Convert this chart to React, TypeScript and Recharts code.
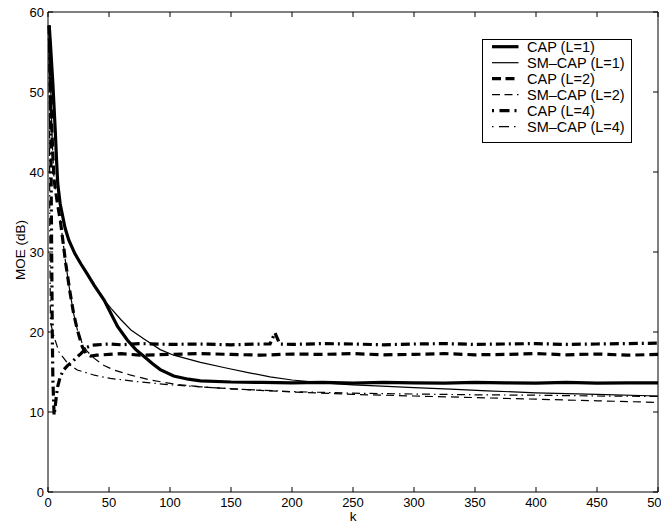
import React from 'react';
import { LineChart, Line, XAxis, YAxis, ReferenceArea, Legend, Label } from 'recharts';

// ---- data ----
const xTicks = [0, 50, 100, 150, 200, 250, 300, 350, 400, 450, 500];
const yTicks = [0, 10, 20, 30, 40, 50, 60];

const capL1K = [1, 2, 3, 4, 5, 6, 7, 8, 10, 12, 14, 17, 22, 27, 32, 38, 46, 52, 57, 65, 72, 79, 86, 92, 103, 115, 125, 150, 175, 200, 225, 250, 275, 300, 325, 350, 375, 400, 425, 450, 475, 500];
const capL1V = [58.3, 56, 53.5, 51, 48, 45, 41.5, 38.5, 36, 34.5, 33, 31.5, 29.8, 28.5, 27.3, 25.8, 24, 22.2, 20.7, 19, 17.8, 16.9, 16, 15.3, 14.5, 14.1, 13.9, 13.75, 13.7, 13.65, 13.7, 13.6, 13.7, 13.65, 13.6, 13.7, 13.65, 13.6, 13.7, 13.6, 13.65, 13.65];

const smL1K = [1, 2, 3, 4, 5, 6, 7, 8, 10, 12, 14, 17, 22, 27, 32, 38, 46, 52, 60, 68, 79, 92, 103, 125, 146, 165, 182, 200, 228, 250, 278, 300, 330, 360, 400, 450, 500];
const smL1V = [58.3, 56, 53.5, 51, 48, 45, 41.5, 38.5, 36, 34.5, 33, 31.5, 29.8, 28.5, 27.3, 25.8, 24, 22.9, 21.5, 20.25, 19.1, 17.8, 17.1, 16.2, 15.5, 14.9, 14.4, 14.0, 13.6, 13.4, 13.2, 13.05, 12.85, 12.65, 12.4, 12.2, 12.0];

const capL2K = [1, 2, 3, 4, 5, 7.5, 10.4, 14.5, 18, 21, 24, 28, 31, 35, 40, 50, 60, 75, 100, 125, 150, 175, 200, 225, 250, 275, 300, 325, 350, 375, 400, 425, 450, 475, 500];
const capL2V = [58.3, 52, 46, 42, 39, 36.3, 33.6, 28.6, 25, 22.3, 20.3, 18.2, 17.3, 17.0, 17.1, 17.2, 17.3, 17.1, 17.2, 17.3, 17.2, 17.1, 17.25, 17.2, 17.3, 17.15, 17.2, 17.3, 17.15, 17.2, 17.3, 17.15, 17.25, 17.1, 17.2];

const smL2K = [1, 2, 3, 4, 5, 7.5, 10.4, 14.5, 18, 21, 24, 28, 32, 38, 46, 54, 68, 84, 103, 125, 150, 200, 250, 300, 350, 400, 450, 500];
const smL2V = [58.3, 52, 46, 42, 39, 36.3, 33.6, 28.6, 25, 22.3, 20.3, 18.6, 17.6, 16.7, 15.8, 15.25, 14.6, 14.0, 13.5, 13.15, 12.9, 12.5, 12.2, 12.0, 11.8, 11.6, 11.4, 11.2];

const capL4K = [1, 2, 2.5, 3, 3.5, 4, 5, 6, 7, 8, 10, 13, 16, 20, 24, 27, 32, 36, 40, 50, 60, 75, 100, 125, 150, 175, 182, 186, 190, 200, 225, 250, 275, 300, 325, 350, 375, 400, 425, 450, 475, 500];
const capL4V = [58.3, 48, 40, 30, 20, 14, 9.6, 10.8, 12.2, 13.2, 14.4, 15.3, 15.8, 16.3, 16.9, 17.3, 18.1, 18.35, 18.4, 18.5, 18.4, 18.55, 18.45, 18.5, 18.4, 18.5, 18.5, 19.9, 18.5, 18.45, 18.55, 18.5, 18.4, 18.5, 18.55, 18.45, 18.5, 18.55, 18.45, 18.5, 18.55, 18.6];

const smL4K = [1, 1.5, 2, 5, 9, 16, 24, 38, 51, 73, 100, 125, 150, 200, 250, 300, 350, 400, 450, 500];
const smL4V = [58.3, 32, 21.2, 19.4, 17.5, 16.1, 15.25, 14.6, 14.2, 13.8, 13.4, 13.15, 12.9, 12.55, 12.35, 12.25, 12.15, 12.1, 12.0, 11.95];

const seriesNames = ['CAP (L=1)', 'SM\u2013CAP (L=1)', 'CAP (L=2)', 'SM\u2013CAP (L=2)', 'CAP (L=4)', 'SM\u2013CAP (L=4)'];

const toPoints = (ks: number[], vs: number[]) => ks.map((k, i) => ({ k, v: vs[i] }));

const THICK = 3.2;
const THIN = 1.2;

const series = [
  { name: seriesNames[0], data: toPoints(capL1K, capL1V), width: THICK, dash: undefined, legendDash: undefined },
  { name: seriesNames[1], data: toPoints(smL1K, smL1V), width: THIN, dash: undefined, legendDash: undefined },
  { name: seriesNames[2], data: toPoints(capL2K, capL2V), width: THICK, dash: '9 5', legendDash: '9 4.5' },
  { name: seriesNames[3], data: toPoints(smL2K, smL2V), width: THIN, dash: '8 5', legendDash: '8 4.5' },
  { name: seriesNames[4], data: toPoints(capL4K, capL4V), width: THICK, dash: '9 4 2 4', legendDash: '2 5.5 10 5' },
  { name: seriesNames[5], data: toPoints(smL4K, smL4V), width: THIN, dash: '8 4 1.5 4', legendDash: '1.5 5.5 10 5' },
];

// ---- layout ----
const W = 661;
const H = 513;
const PL = 40;
const PR = 650;
const PT = 4;
const PB = 484;
const FONT = '"Liberation Sans", Arial, Helvetica, sans-serif';

const XTick = (props: any) => {
  const { x, payload } = props;
  return (
    <g>
      <line x1={x} x2={x} y1={PB} y2={PB - 5} stroke="#000" strokeWidth={1} />
      <line x1={x} x2={x} y1={PT} y2={PT + 5} stroke="#000" strokeWidth={1} />
      <text x={x} y={499} textAnchor="middle" fontSize={13} fontFamily={FONT} fill="#000">
        {payload.value}
      </text>
    </g>
  );
};

const YTick = (props: any) => {
  const { y, payload } = props;
  return (
    <g>
      <line x1={PL} x2={PL + 5} y1={y} y2={y} stroke="#000" strokeWidth={1} />
      <line x1={PR} x2={PR - 5} y1={y} y2={y} stroke="#000" strokeWidth={1} />
      <text x={36} y={y + 4.7} textAnchor="end" fontSize={13} fontFamily={FONT} fill="#000">
        {payload.value}
      </text>
    </g>
  );
};

const LegendBox = () => {
  const rowY0 = 7.7;
  const rowStep = 16;
  return (
    <svg width={150} height={104} style={{ display: 'block' }}>
      <rect x={0.5} y={0.5} width={149} height={103} fill="#fff" stroke="#000" strokeWidth={1} />
      {series.map((s, i) => {
        const cy = rowY0 + i * rowStep;
        return (
          <g key={s.name}>
            <line x1={10} x2={36.5} y1={cy} y2={cy} stroke="#000" strokeWidth={s.width} strokeDasharray={s.legendDash} />
            <text x={45} y={cy + 5} fontSize={14.5} fontFamily={FONT} fill="#000">
              {s.name}
            </text>
          </g>
        );
      })}
    </svg>
  );
};

export default function App() {
  return (
    <div style={{ width: W, height: H }}>
      <style>{`.recharts-surface{overflow:visible}`}</style>
      <LineChart width={W} height={H} margin={{ top: PT, right: W - PR, left: 0, bottom: 0 }}>
        <XAxis
          dataKey="k"
          type="number"
          domain={[0, 500]}
          ticks={xTicks}
          interval={0}
          height={H - PB}
          axisLine={false}
          tickLine={false}
          tick={<XTick />}
          allowDuplicatedCategory={false}
        >
          <Label
            content={() => (
              <text x={345} y={513} textAnchor="middle" fontSize={13.5} fontFamily={FONT} fill="#000">
                k
              </text>
            )}
          />
        </XAxis>
        <YAxis
          type="number"
          domain={[0, 60]}
          ticks={yTicks}
          interval={0}
          width={PL}
          axisLine={false}
          tickLine={false}
          tick={<YTick />}
        >
          <Label
            content={() => (
              <text transform="translate(17,242) rotate(-90)" textAnchor="middle" fontSize={13.5} fontFamily={FONT} fill="#000">
                MOE (dB)
              </text>
            )}
          />
        </YAxis>
        {series.map((s) => (
          <Line
            key={s.name}
            data={s.data}
            dataKey="v"
            name={s.name}
            type="linear"
            stroke="#000"
            strokeWidth={s.width}
            strokeDasharray={s.dash}
            dot={false}
            activeDot={false}
            isAnimationActive={false}
          />
        ))}
        <ReferenceArea x1={0} x2={500} y1={0} y2={60} fill="none" stroke="#000" strokeWidth={1} ifOverflow="visible" />
        <Legend
          layout="vertical"
          align="center"
          verticalAlign="middle"
          content={() => <LegendBox />}
          wrapperStyle={{ left: 474, top: 31, width: 150, height: 104 }}
        />
      </LineChart>
    </div>
  );
}
